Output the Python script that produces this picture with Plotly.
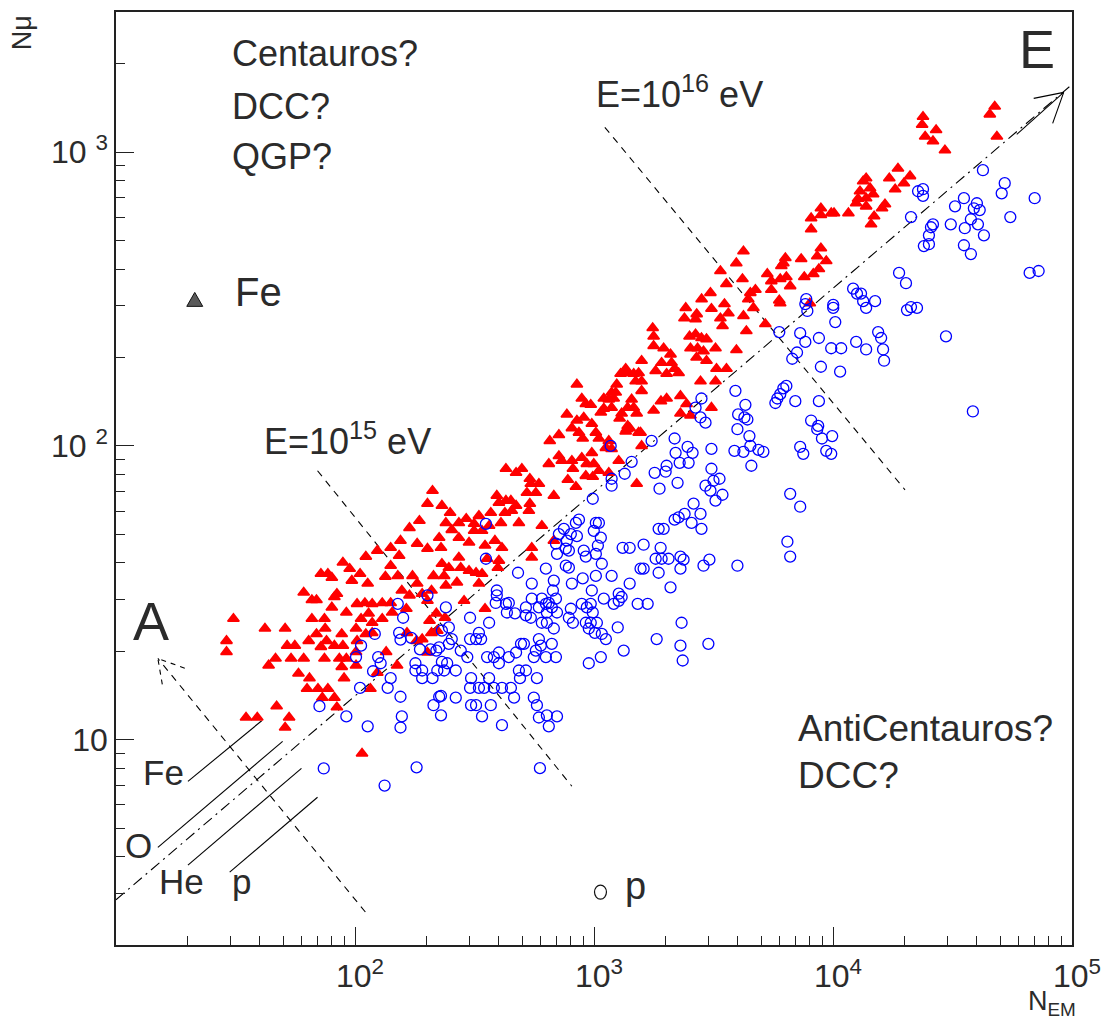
import plotly.graph_objects as go

# ---- shower sizes: (N_EM, N_mu) ----
fe_showers = [
    (31, 25.8), (29, 21.7), (29, 19.9), (42, 23.9), (51, 23.9), (52, 20.9), (56, 20.9), (43.5, 17.9),
    (46.5, 18.9), (54, 18.9), (61, 18.9), (58, 16.8), (35, 11.9), (39, 11.9), (47, 13.0), (53, 11.9),
    (51, 11.0), (61, 31.7), (66, 29.9), (69, 29.9), (72, 36.7), (77, 36.7), (80, 35.6), (64, 21.7),
    (69, 22.9), (75, 23.9), (76, 21.7), (72, 20.7), (66, 25.8), (74.5, 25.8), (74.5, 18.9), (88, 22.9),
    (82, 20.9), (89, 20.9), (64.5, 16.2), (63, 14.9), (70, 14.9), (73, 13.9), (77, 14.9), (82, 13.9),
    (84, 12.9), (90, 16.2), (86, 18.9), (92, 18.9), (101, 17.9), (88, 17.7), (80, 28.2), (84, 31.4),
    (92, 27.1), (82, 30.6), (89, 40.1), (95, 38.2), (97, 34.8), (105, 36.7), (113, 34.0), (134, 35.9),
    (141, 39.1), (151, 36.1), (102, 29.0), (110, 29.2), (118, 29.0), (130, 29.2), (141, 29.2), (106, 25.8),
    (114, 26.9), (118, 25.0), (130, 25.8), (143, 27.1), (101, 23.9), (102, 21.7), (111, 22.9), (118, 23.1),
    (101, 19.9), (135, 19.9), (150, 17.9), (124, 16.9), (116, 14.9), (107, 8.97), (157, 32.2), (169, 31.0),
    (174, 36.1), (182, 34.0), (191, 31.4), (201, 29.7), (209, 32.2), (213, 36.1), (164, 27.9), (165, 23.1),
    (181, 21.7), (191, 22.0), (205, 25.4), (209, 23.1), (221, 23.5), (201, 19.8), (219, 26.9),
    (211, 70.4), (201, 63.6), (186, 55.6), (169, 52.6), (155, 47.6), (182, 46.5), (201, 44.7), (141, 45.0),
    (124, 44.0), (111, 42.0), (153, 42.3),
    (653, 104), (713, 109), (897, 106), (1018, 111), (647, 86.9), (713, 92.4), (733, 89.0), (808, 89.0),
    (816, 83.6), (889, 91.1), (933, 86.9), (979, 94.7), (998, 86.9), (924, 79.1), (988, 78.5), (777, 76.7),
    (840, 72.6), (428, 83.6), (472, 81.0), (499, 83.6), (539, 77.3), (544, 74.3), (588, 74.3), (571, 69.3),
    (524, 69.3), (679, 67.7), (392, 67.7), (400, 64.1), (428, 65.1), (449, 65.1), (472, 62.6), (453, 60.2),
    (424, 59.2), (370, 59.2), (485, 54.7), (534, 60.2), (539, 63.6), (330, 57.8), (292, 56.5), (272, 54.7),
    (240, 54.7), (250, 59.2), (231, 62.6), (315, 54.3), (364, 53.5), (408, 54.7), (254, 51.8), (272, 48.7),
    (315, 51.4), (340, 51.4), (300, 46.9), (350, 45.8), (385, 47.6), (412, 45.0), (225, 48.7), (229, 45.0),
    (231, 39.7), (247, 38.5), (236, 36.1), (240, 33.5), (272, 41.7), (277, 38.5), (267, 34.3), (286, 29.7),
    (300, 37.6), (321, 37.0), (340, 36.7), (330, 34.0), (357, 41.3), (400, 40.7), (396, 38.5), (605, 53.5),
    (679, 47.6), (549, 45.0), (549, 41.7), (350, 27.9), (238, 26.0),
    (848, 162), (889, 145), (924, 139), (969, 138), (770, 128), (848, 122), (906, 125), (979, 119),
    (808, 115), (865, 111),
    (2420, 295), (2690, 281), (2390, 272), (2660, 270), (3100, 293), (3380, 272), (3515, 304), (3650, 283),
    (3450, 256), (4220, 277), (4645, 295), (5210, 260), (4340, 246), (6015, 306), (1760, 252), (1776, 236),
    (1776, 219), (1956, 215), (2090, 205), (2510, 236), (2660, 240), (2816, 233), (2956, 231), (2533, 215),
    (2712, 215), (2872, 210), (3224, 215), (3944, 212), (2686, 200), (2956, 195), (1582, 195), (1918, 192),
    (2111, 192), (2174, 183), (2013, 176), (1811, 180), (2260, 177), (3255, 183), (3583, 183), (1537, 177),
    (1582, 166), (1466, 176), (1383, 177), (1292, 176), (1494, 166), (1582, 154), (1245, 162), (1185, 152),
    (1099, 145), (1153, 144), (1209, 145), (1185, 135), (1099, 134), (1437, 144), (1466, 135), (1383, 135),
    (1509, 129), (1305, 129), (1280, 124), (1410, 115), (1566, 111), (1370, 114), (1906, 142), (2013, 145),
    (2300, 148), (2440, 139), (1776, 132), (2300, 129), (2533, 127), (3100, 135), (2790, 166), (3224, 166),
    (1153, 104), (1185, 97.7), (1121, 98.5), (1269, 89.0), (1153, 81.0), (1048, 82.3), (1582, 100),
    (1509, 74.3), (1357, 183), (1233, 152), (1068, 130), (1383, 117), (1048, 106), (1357, 112), (1537, 111),
    (6320, 436), (6200, 419), (6080, 410), (5310, 385), (5520, 364), (6015, 370), (6380, 376), (6620, 350),
    (5520, 340), (4510, 332), (4735, 340), (4420, 316), (5960, 313),
    (4220, 460), (3940, 419), (4180, 370), (3580, 356), (3070, 332), (2820, 316), (3380, 394),
    (47500, 1430), (45300, 1345), (48500, 1130), (23800, 1320), (23600, 1240), (24300, 1130), (27000, 1190),
    (26200, 1090), (29400, 1015), (18700, 880), (17200, 815), (18200, 748), (19800, 784), (21000, 829),
    (13760, 815), (13370, 796), (14290, 754), (12970, 736), (12730, 694), (13760, 697), (14720, 719),
    (12500, 670), (13760, 654), (16500, 665), (16040, 644), (14860, 605), (14430, 568), (11600, 620),
    (10100, 620), (9830, 620), (8900, 644), (8900, 611), (8100, 596), (8100, 547), (8900, 471), (8590, 442),
    (9370, 426), (8730, 400), (8270, 385), (7583, 376), (7360, 433), (8000, 306),
]

p_showers = [
    (71, 13.0), (92, 12.0), (113, 11.1), (133, 6.98), (74, 7.98), (181, 8.05), (105, 15.0), (155, 14.0),
    (157, 12.0), (155, 11.0), (137, 15.0), (141, 16.2), (119, 17.1), (128, 18.2), (125, 19.1), (106, 20.9),
    (101, 19.1), (121, 22.9), (153, 23.1), (155, 21.9), (151, 29.0), (159, 26.0), (172, 22.2), (179, 18.2),
    (179, 17.2), (191, 16.2), (211, 16.2), (191, 17.2), (221, 17.2), (187, 20.3), (207, 20.3), (219, 20.1),
    (201, 31.0), (225, 14.0), (213, 13.1),
    (988, 66.1), (865, 56.1), (840, 54.7), (1018, 54.7), (748, 52.2), (713, 50.1), (800, 50.1), (848, 49.3),
    (998, 51.4), (770, 47.6), (693, 46.5), (762, 44.7), (700, 42.9), (1038, 45.8), (785, 44.0), (906, 44.0),
    (924, 42.0), (1018, 42.9), (762, 39.1), (785, 38.5), (629, 38.2), (679, 34.8), (549, 34.0), (481, 37.0),
    (808, 34.0), (897, 35.4), (1018, 36.1), (979, 32.2), (392, 32.2), (392, 31.0), (388, 29.2), (428, 29.0),
    (440, 29.2), (432, 27.1), (467, 26.9), (519, 28.2), (549, 30.2), (519, 26.5), (544, 26.0), (588, 28.2),
    (605, 30.2), (629, 29.0), (647, 29.2), (666, 28.2), (635, 27.1), (700, 27.1), (693, 30.2), (673, 32.2),
    (605, 25.0), (635, 25.0), (679, 23.9), (800, 27.9), (785, 26.0), (816, 25.0), (889, 29.0), (933, 28.2),
    (969, 29.0), (988, 27.1), (924, 25.0), (969, 25.0), (1028, 25.0), (951, 23.9), (1008, 23.1), (240, 28.2),
    (303, 26.0), (364, 25.0), (247, 24.1), (231, 23.5), (254, 22.0), (330, 23.1), (337, 22.0), (321, 22.0),
    (303, 22.0), (225, 20.6), (247, 21.2), (277, 20.1), (295, 19.1), (357, 19.1), (381, 19.1), (400, 19.8),
    (400, 18.2), (440, 19.1), (472, 19.8), (495, 21.2), (509, 21.2), (560, 19.1), (588, 22.0), (599, 20.9),
    (629, 19.1), (693, 19.1), (666, 21.2), (571, 20.1), (231, 18.4), (243, 18.2), (236, 17.2), (264, 17.2),
    (951, 18.2), (306, 16.2), (303, 15.0), (330, 15.0), (347, 15.0), (364, 16.2), (381, 15.0), (412, 15.0),
    (449, 15.0), (463, 13.9), (485, 17.2), (519, 17.2), (490, 16.2), (577, 16.2), (264, 13.9), (229, 14.1),
    (306, 13.1), (321, 13.1), (370, 13.1), (340, 12.0), (560, 13.9), (577, 13.1), (588, 11.9), (635, 12.1),
    (700, 12.0), (412, 11.2), (647, 11.1), (229, 12.1), (594, 8.0), (353, 54.3), (353, 41.3),
    (5960, 244), (6755, 198), (6380, 160), (6197, 157), (6015, 150), (5740, 140), (5850, 145), (6955, 142),
    (3906, 154), (4300, 138), (4010, 128), (4259, 125), (4383, 123), (3982, 114), (4470, 108), (4510, 100),
    (3869, 96.2), (4218, 95.5), (4876, 97.0), (5113, 95.5), (4554, 85.6), (2816, 145), (2660, 135),
    (2790, 125), (2928, 120), (3100, 97.7), (2174, 106), (2464, 99.2), (2585, 94.7), (2195, 94.7),
    (2283, 87.6), (2488, 87.6), (2013, 85.6), (1994, 81.7), (1794, 81.0), (1742, 104), (2237, 74.9),
    (1880, 71.5), (1437, 88.3), (1344, 80.4), (1185, 77.3), (1185, 73.2), (1174, 100), (3100, 83.6),
    (2928, 73.2), (3162, 76.1), (3350, 77.3), (3071, 70.4), (3447, 68.2), (3224, 65.1), (6620, 68.7),
    (2610, 63.6), (2790, 58.7), (2393, 58.7), (2260, 57.1), (2174, 56.1), (2560, 54.7), (2816, 52.2),
    (1956, 52.2), (1864, 52.2), (6445, 47.2), (6620, 42.0), (1613, 46.1), (1410, 45.0), (1318, 45.0),
    (1900, 45.0), (1811, 41.3), (1918, 41.3), (2050, 41.3), (2300, 42.0), (2370, 41.0), (2300, 38.2),
    (1864, 37.0), (1613, 38.2), (1566, 38.2), (2872, 39.1), (3040, 41.0), (3982, 39.1), (1185, 36.1),
    (1410, 34.0), (2090, 33.0), (1078, 39.7), (1048, 54.7), (1068, 48.7), (1269, 31.4), (1099, 30.2),
    (1209, 29.0), (1269, 29.7), (1305, 30.6), (1523, 29.0), (1677, 29.0), (1121, 22.0), (1078, 22.9),
    (1257, 24.1), (1829, 22.0), (1068, 19.1), (1331, 20.1),
    (2325, 25.0), (2300, 20.9), (3010, 21.2), (2350, 18.6),
    (42400, 868), (52300, 784), (50800, 724), (69800, 697), (55200, 601), (35300, 697), (32400, 654),
    (40000, 670), (38850, 644), (41100, 635), (37750, 591), (40400, 568), (42800, 521), (35600, 551),
    (31100, 568), (35300, 482), (37750, 450), (22700, 736), (23800, 748), (23800, 710), (21200, 601),
    (26200, 568), (25700, 555), (25200, 521), (25200, 486), (24000, 479), (66500, 388), (72500, 394),
    (18900, 388), (20200, 358), (12140, 343), (12600, 330), (13100, 330), (13370, 311), (13760, 295),
    (15000, 311), (21200, 297), (20400, 290), (22460, 295), (10020, 302), (10020, 295), (10220, 264),
    (7730, 316), (7810, 288), (7660, 304), (29700, 236), (38480, 131), (7290, 242), (7660, 226), (7070, 208),
    (8730, 233), (9830, 215), (10820, 215), (12500, 226), (13760, 213), (15450, 244), (15900, 233),
    (16200, 213), (16360, 195), (8900, 186), (10710, 179), (8730, 142), (8100, 122), (8670, 117),
    (8590, 114), (8990, 106), (9920, 108), (7290, 99.2), (7510, 94.0), (9370, 96.2), (9830, 94.0),
    (7290, 62.1),
]

fe_nem = [p[0] for p in fe_showers]
fe_nmu = [p[1] for p in fe_showers]
p_nem = [p[0] for p in p_showers]
p_nmu = [p[1] for p in p_showers]

# ---- guide lines (N_EM, N_mu) ----
energy_axis_nem = [10, 1e5]
energy_axis_nmu = [2.85, 1700]
energy_arrow_nem = [58730, 92300]
energy_arrow_nmu = [1149, 1598]
energy_head_nem = [69140, 92300, 83000]
energy_head_nmu = [1524, 1598, 1253]
e15_nem = [69.7, 808]
e15_nmu = [82.3, 6.94]
e16_nem = [1110, 20010]
e16_nmu = [1215, 70.9]
mass_arrow_nem = [110.5, 14.97]
mass_arrow_nmu = [2.59, 18.9]
mass_head_nem = [19.4, 14.97, 15.7]
mass_head_nmu = [17.5, 18.9, 15.05]
primary_lines = {
    "Fe": ([20.0, 40.7], [7.21, 11.6]),
    "O": ([14.97, 49.8], [4.30, 9.87]),
    "He": ([20.0, 59.7], [3.74, 7.99]),
    "p": ([29.9, 69.7], [3.54, 6.37]),
}

x_major = [10, 100, 1000, 10000, 100000]
x_major_text = ["", "10<sup>2</sup>", "10<sup>3</sup>", "10<sup>4</sup>", "10<sup>5</sup>"]
x_minor = [m * 10 ** k for k in range(1, 5) for m in range(2, 10)]
y_major = [10, 100, 1000]
y_major_text = ["10", "10 <sup>2</sup>", "10 <sup>3</sup>"]
y_minor = [m * 10 ** k for k in range(0, 4) for m in range(2, 10) if m * 10 ** k <= 3000]

FONT = "Liberation Sans, Arial, sans-serif"
INK = "#2b2b2b"
W, H = 1111, 1027
L, R, T, B = 116, 36, 10, 82
PW, PH = W - L - R, H - T - B


def paper(px, py):
    return (px - L) / PW, (T + PH - py) / PH


fig = go.Figure()


def guide(xs, ys, dash="solid", width=1.1):
    fig.add_trace(go.Scatter(x=xs, y=ys, mode="lines", showlegend=False, hoverinfo="skip",
                             line=dict(color="black", width=width, dash=dash)))


guide(energy_axis_nem, energy_axis_nmu, dash="11px,5px,2px,5px")
guide(energy_arrow_nem, energy_arrow_nmu)
guide(energy_head_nem, energy_head_nmu)
guide(e15_nem, e15_nmu, dash="7px,6px")
guide(e16_nem, e16_nmu, dash="7px,6px")
guide(mass_arrow_nem, mass_arrow_nmu, dash="7px,6px")
guide(mass_head_nem, mass_head_nmu, dash="5px,5px")
for xs, ys in primary_lines.values():
    guide(xs, ys)

fig.add_trace(go.Scatter(
    x=fe_nem, y=fe_nmu, mode="markers", showlegend=False, hoverinfo="skip",
    marker=dict(symbol="triangle-up", size=10, color="#ff0000",
                line=dict(color="#ff0000", width=1.6)),
))
fig.add_trace(go.Scatter(
    x=p_nem, y=p_nmu, mode="markers", showlegend=False, hoverinfo="skip",
    marker=dict(symbol="circle-open", size=11, color="#0000ff", line=dict(color="#0000ff", width=1.3)),
))

annotations = []


def label(text, px, py, size, xanchor="left", angle=0):
    x, y = paper(px, py)
    annotations.append(dict(text=text, x=x, y=y, xref="paper", yref="paper", showarrow=False,
                            xanchor=xanchor, yanchor="middle", textangle=angle,
                            font=dict(family=FONT, size=size, color=INK)))


label("Centauros?", 230, 52, 36)
label("DCC?", 230, 105, 36)
label("QGP?", 230, 155, 36)
label("Fe", 233, 291, 40)
label("E=10<sup>15</sup> eV", 262, 438, 36)
label("E=10<sup>16</sup> eV", 595, 90, 36)
label("E", 1040, 47, 54, xanchor="center")
label("A", 151, 620, 54, xanchor="center")
label("Fe", 164, 772, 35, xanchor="center")
label("O", 139, 845, 35, xanchor="center")
label("He", 182, 881, 35, xanchor="center")
label("p", 242, 881, 35, xanchor="center")
label("p", 637, 886, 38, xanchor="center")
label("AntiCentauros?", 798, 728, 37)
label("DCC?", 798, 775, 37)
label("N<sub>EM</sub>", 1055, 1003, 27, xanchor="center")
label("Nμ", 22, 31, 27, xanchor="center", angle=-90)

# key symbols
ax_, ay_ = paper(195, 291)
bl_x, bl_y = paper(187, 305)
br_x, _ = paper(203, 305)
c0x, c0y = paper(596, 899)
c1x, c1y = paper(608, 885)
shapes = [
    dict(type="path", xref="paper", yref="paper",
         path=f"M {bl_x},{bl_y} L {br_x},{bl_y} L {ax_},{ay_} Z",
         fillcolor="#5a5a5a", line=dict(color="#111", width=1)),
    dict(type="circle", xref="paper", yref="paper", x0=c0x, y0=c0y, x1=c1x, y1=c1y,
         line=dict(color="#111", width=1.2)),
]

axis_common = dict(
    type="log", showgrid=False, zeroline=False, showline=True, mirror=True,
    linecolor="#222", linewidth=1.5, ticks="inside", ticklen=18, tickwidth=1.1, tickcolor="#222",
    tickfont=dict(family=FONT, size=32, color=INK),
)

fig.update_layout(
    width=W, height=H,
    margin=dict(l=L, r=R, t=T, b=B),
    paper_bgcolor="white", plot_bgcolor="white",
    xaxis=dict(range=[1, 5], tickmode="array", tickvals=x_major, ticktext=x_major_text,
               minor=dict(tickmode="array", tickvals=x_minor, ticks="inside", ticklen=9,
                          tickwidth=1.1, tickcolor="#222"),
               ticklabelstandoff=2, ticklabelshift=5, **axis_common),
    yaxis=dict(range=[0.30103, 3.47712], tickmode="array", tickvals=y_major, ticktext=y_major_text,
               minor=dict(tickmode="array", tickvals=y_minor, ticks="inside", ticklen=9,
                          tickwidth=1.1, tickcolor="#222"),
               ticklabelstandoff=0, **axis_common),
    annotations=annotations,
    shapes=shapes,
)

fig.write_html("out.html")
